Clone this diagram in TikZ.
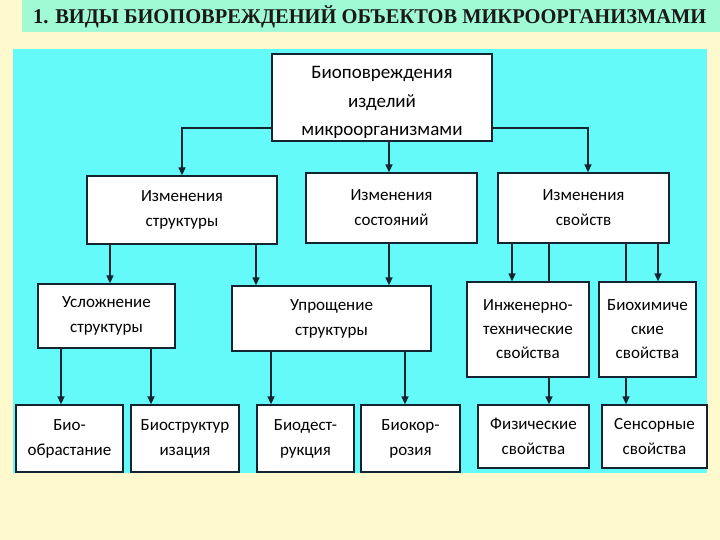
\documentclass[tikz,border=0pt]{standalone}
\usepackage{fontspec}
\setmainfont{Carlito}
\newfontfamily\titlefont{Liberation Serif}
\usetikzlibrary{arrows.meta}
\definecolor{cream}{RGB}{255,249,206}
\definecolor{mint}{RGB}{160,250,212}
\definecolor{cyanbg}{RGB}{100,250,250}
\definecolor{ink}{RGB}{20,36,48}
\begin{document}
\begin{tikzpicture}[x=1pt,y=-1pt,
  box/.style={draw=ink, line width=1.3pt, fill=white, inner sep=0pt, align=center,
     font=\fontsize{17}{25}\selectfont, text=black},
  txt/.style={inner sep=0pt, align=center, text=black},
  arr/.style={draw=ink, line width=1.3pt, -{Triangle[width=7pt,length=8pt]}},
  ln/.style={draw=ink, line width=1.3pt}]
\useasboundingbox (0,0) rectangle (720,540);
\fill[cream] (0,0) rectangle (720,540);
\fill[mint] (22,0) rectangle (720,32);
\node[anchor=west, inner sep=0pt, font=\titlefont\bfseries\fontsize{21}{24}\selectfont, text=black!90] (title) at (33,16.5) {\resizebox{673pt}{\height}{1. ВИДЫ БИОПОВРЕЖДЕНИЙ ОБЪЕКТОВ МИКРООРГАНИЗМАМИ}};
\fill[cyanbg] (13,49) rectangle (707,473);

\node[box, minimum width=220, minimum height=87] (top) at (382,97.5) {};
\node[txt, font=\fontsize{19}{28.5}\selectfont] (topt) at (382,102.5) {Биоповреждения\\изделий\\микроорганизмами};
\node[box, minimum width=190, minimum height=68] (s) at (182,210) {Изменения\\структуры};
\node[box, minimum width=171, minimum height=70] (st) at (391.5,208) {Изменения\\состояний};
\node[box, minimum width=171, minimum height=70] (sv) at (583.5,208) {Изменения\\свойств};

\node[box, minimum width=137, minimum height=64] (usl) at (106.5,316) {Усложнение\\структуры};
\node[box, minimum width=199, minimum height=65] (upr) at (331.5,318.5) {Упрощение\\структуры};
\node[box, minimum width=122, minimum height=95, font=\fontsize{17}{24}\selectfont] (ing) at (528,329.5) {Инженерно-\\технические\\свойства};
\node[box, minimum width=97, minimum height=95, font=\fontsize{17}{24}\selectfont] (bio) at (647.5,329.5) {Биохимиче\\ские\\свойства};

\node[box, minimum width=107, minimum height=67] (b1) at (69.5,438.5) {Био-\\обрастание};
\node[box, minimum width=108, minimum height=67] (b2) at (185,438.5) {Биоструктур\\изация};
\node[box, minimum width=97, minimum height=67] (b3) at (305.5,438.5) {Биодест-\\рукция};
\node[box, minimum width=99, minimum height=67] (b4) at (410.5,438.5) {Биокор-\\розия};
\node[box, minimum width=111, minimum height=63] (b5) at (533.5,436.5) {Физические\\свойства};
\node[box, minimum width=105, minimum height=63] (b6) at (654.5,436.5) {Сенсорные\\свойства};

% level 1 -> 2
\draw[arr] (top.west |- 0,128) -| (s.north);
\draw[arr] (top.east |- 0,128) -| (588,0 |- sv.north);
\draw[arr] (389,0 |- top.south) -- (389,0 |- st.north);
% level 2 -> 3
\draw[arr] (110,0 |- s.south) -- (110,0 |- usl.north);
\draw[arr] (256,0 |- s.south) -- (256,0 |- upr.north);
\draw[arr] (389,0 |- st.south) -- (389,0 |- upr.north);
\draw[arr] (512,0 |- sv.south) -- (512,0 |- ing.north);
\draw[ln]  (549,0 |- sv.south) -- (549,0 |- ing.north);
\draw[ln]  (626,0 |- sv.south) -- (626,0 |- bio.north);
\draw[arr] (658,0 |- sv.south) -- (658,0 |- bio.north);
% level 3 -> 4
\draw[arr] (61,0 |- usl.south) -- (61,0 |- b1.north);
\draw[arr] (151,0 |- usl.south) -- (151,0 |- b2.north);
\draw[arr] (271,0 |- upr.south) -- (271,0 |- b3.north);
\draw[arr] (405,0 |- upr.south) -- (405,0 |- b4.north);
\draw[arr] (549,0 |- ing.south) -- (549,0 |- b5.north);
\draw[arr] (626,0 |- bio.south) -- (626,0 |- b6.north);
\end{tikzpicture}
\end{document}
